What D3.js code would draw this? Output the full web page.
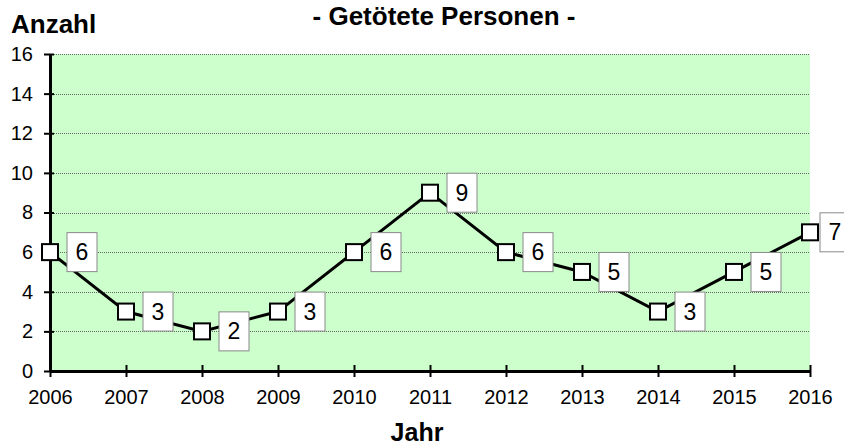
<!DOCTYPE html>
<html>
<head>
<meta charset="utf-8">
<script src="https://cdn.jsdelivr.net/npm/d3@7"></script>
<style>
  html, body { margin: 0; padding: 0; background: #fff; }
  svg { display: block; font-family: Arial, "Liberation Sans", sans-serif; }
</style>
</head>
<body>
<svg id="chart" width="844" height="443"></svg>
<script>
// Getötete Personen je Jahr
const years = [2006, 2007, 2008, 2009, 2010, 2011, 2012, 2013, 2014, 2015, 2016];
const killed = [6, 3, 2, 3, 6, 9, 6, 5, 3, 5, 7];
const yTicks = [0, 2, 4, 6, 8, 10, 12, 14, 16];

(function () {
const W = 844;
const svg = d3.select("#chart");
const plotL = 50, plotR = 810, plotT = 54, plotB = 371;
const font = "Arial, 'Liberation Sans', sans-serif";

const x = d3.scaleLinear().domain([2006, 2016]).range([plotL, plotR]);
const y = d3.scaleLinear().domain([0, 16]).range([plotB, plotT]);

// plot background
svg.append("rect")
  .attr("x", plotL).attr("y", plotT)
  .attr("width", plotR - plotL).attr("height", plotB - plotT)
  .attr("fill", "#ccffcc");

// horizontal gridlines
svg.append("g").selectAll("line")
  .data(yTicks.filter(d => d > 0))
  .join("line")
  .attr("x1", plotL).attr("x2", plotR)
  .attr("y1", d => Math.round(y(d)) + 0.5).attr("y2", d => Math.round(y(d)) + 0.5)
  .attr("stroke", "#666").attr("stroke-width", 1)
  .attr("stroke-dasharray", "1,1");

// y axis
const yAxis = svg.append("g")
  .attr("transform", `translate(${plotL},0)`)
  .call(d3.axisLeft(y).tickValues(yTicks).tickSize(6).tickSizeOuter(0).tickPadding(11));
yAxis.select(".domain").attr("stroke", "#000").attr("stroke-width", 3);
yAxis.selectAll(".tick line").attr("stroke", "#000").attr("stroke-width", 2).attr("x1", -6).attr("x2", 4);
yAxis.selectAll(".tick text").attr("font-size", 20).attr("fill", "#000").attr("font-family", font);

// x axis
const xAxis = svg.append("g")
  .attr("transform", `translate(0,${plotB})`)
  .call(d3.axisBottom(x).tickValues(years).tickFormat(d3.format("d")).tickSize(6).tickSizeOuter(0).tickPadding(13));
xAxis.select(".domain").attr("stroke", "#000").attr("stroke-width", 3);
xAxis.selectAll(".tick line").attr("stroke", "#000").attr("stroke-width", 2).attr("y1", -6).attr("y2", 6);
xAxis.selectAll(".tick text").attr("font-size", 20).attr("fill", "#000").attr("font-family", font);

const pts = years.map((yr, i) => ({ yr, v: killed[i] }));

// data line
svg.append("path")
  .datum(pts)
  .attr("fill", "none").attr("stroke", "#000").attr("stroke-width", 3)
  .attr("d", d3.line().x(d => x(d.yr)).y(d => y(d.v)));

// square markers
const ms = 16;
svg.append("g").selectAll("rect")
  .data(pts)
  .join("rect")
  .attr("x", d => x(d.yr) - ms / 2).attr("y", d => y(d.v) - ms / 2)
  .attr("width", ms).attr("height", ms)
  .attr("fill", "#fff").attr("stroke", "#000").attr("stroke-width", 2);

// value labels in boxes, right of each point (pulled in near the right edge)
const boxW = 30, boxH = 39;
const lbl = svg.append("g").selectAll("g")
  .data(pts)
  .join("g")
  .attr("transform", d => `translate(${Math.min(x(d.yr) + 17, W - 24)},${y(d.v)})`);
lbl.append("rect")
  .attr("x", 0).attr("y", -boxH / 2).attr("width", boxW).attr("height", boxH)
  .attr("fill", "#fff").attr("stroke", "#888").attr("stroke-width", 1);
lbl.append("text")
  .attr("x", boxW / 2).attr("y", 8)
  .attr("text-anchor", "middle")
  .attr("font-size", 23).attr("fill", "#000").attr("font-family", font)
  .text(d => d.v);

// titles
svg.append("text")
  .attr("x", 444).attr("y", 25).attr("text-anchor", "middle")
  .attr("font-size", 26).attr("font-weight", "bold").attr("font-family", font)
  .text("- Getötete Personen -");
svg.append("text")
  .attr("x", 11).attr("y", 33)
  .attr("font-size", 26).attr("font-weight", "bold").attr("font-family", font)
  .text("Anzahl");
svg.append("text")
  .attr("x", 417).attr("y", 441).attr("text-anchor", "middle")
  .attr("font-size", 25).attr("font-weight", "bold").attr("font-family", font)
  .text("Jahr");
})();
</script>
</body>
</html>
